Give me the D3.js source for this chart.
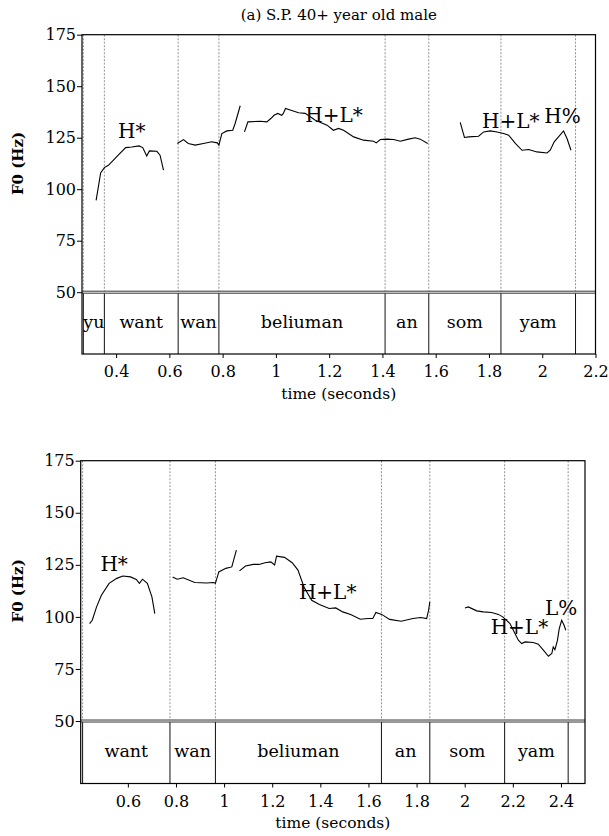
<!DOCTYPE html>
<html>
<head>
<meta charset="utf-8">
<script src="https://cdn.jsdelivr.net/npm/d3@7"></script>
<style>
  body { margin: 0; background: #fff; }
  svg { display: block; }
  svg text { font-family: "DejaVu Serif", "Liberation Serif", serif; fill: #000; }
</style>
</head>
<body>
<svg id="chart"></svg>
<script>
// ---- data: time in seconds, F0 in Hz ----
const yTicks = [50, 75, 100, 125, 150, 175];

// (a) S.P. 40+ year old male
const wordsA = ["yu", "want", "wan", "beliuman", "an", "som", "yam"];
const boundsA = [0.277, 0.356, 0.633, 0.786, 1.41, 1.574, 1.845, 2.125];
const xTicksA = [0.4, 0.6, 0.8, 1, 1.2, 1.4, 1.6, 1.8, 2, 2.2];
const contoursA = [
  [[0.325,94.6],[0.342,107.9],[0.356,110.5],[0.371,111.6],[0.390,114.1],[0.408,116.5],[0.436,120.2],
   [0.459,120.5],[0.486,121.0],[0.500,120.2],[0.515,116.1],[0.525,118.6],[0.553,118.4],[0.565,116.5],[0.578,109.2]],
  [[0.630,122.2],[0.653,124.1],[0.671,122.2],[0.697,121.4],[0.728,122.2],[0.759,123.0],[0.780,122.5],
   [0.786,121.4],[0.797,127.0],[0.816,128.3],[0.838,128.6],[0.847,131.9],[0.866,140.5]],
  [[0.882,127.8],[0.895,132.7],[0.941,133.0],[0.966,132.7],[0.981,134.3],[0.993,135.9],[1.007,136.8],
   [1.022,135.9],[1.028,136.8],[1.036,139.2],[1.054,138.4],[1.085,137.1],[1.110,136.8],[1.148,133.5],
   [1.192,131.1],[1.216,128.6],[1.235,129.5],[1.254,128.6],[1.292,125.4],[1.329,123.8],[1.367,123.3],
   [1.377,122.5],[1.392,124.1],[1.417,124.3],[1.442,124.1],[1.467,123.3],[1.498,124.3],[1.523,125.0],
   [1.542,124.3],[1.570,122.2]],
  [[1.692,132.4],[1.708,125.1],[1.724,125.4],[1.761,125.7],[1.780,127.8],[1.805,128.3],[1.830,127.8],
   [1.855,127.0],[1.874,126.2],[1.899,122.2],[1.924,118.9],[1.949,119.3],[1.980,118.1],[2.018,117.6],
   [2.030,118.9],[2.045,123.0],[2.061,125.4],[2.080,128.3],[2.093,124.6],[2.108,118.9]]
];
const tonesA = [
  { text: "H*", t: 0.407, f0: 125 },
  { text: "H+L*", t: 1.110, f0: 132.7 },
  { text: "H+L*", t: 1.774, f0: 129.5 },
  { text: "H%", t: 2.008, f0: 131.9 }
];

// second speaker
const wordsB = ["want", "wan", "beliuman", "an", "som", "yam"];
const boundsB = [0.412, 0.775, 0.964, 1.654, 1.855, 2.166, 2.43];
const xTicksB = [0.6, 0.8, 1, 1.2, 1.4, 1.6, 1.8, 2, 2.2, 2.4];
const contoursB = [
  [[0.441,96.8],[0.452,98.4],[0.470,104.8],[0.490,110.4],[0.522,116.1],[0.554,118.5],[0.579,119.6],
   [0.611,119.2],[0.635,118.0],[0.648,116.1],[0.661,118.1],[0.681,116.1],[0.700,109.6],[0.712,101.6]],
  [[0.786,119.2],[0.805,118.1],[0.830,118.8],[0.878,116.5],[0.927,116.3],[0.956,116.5],[0.964,116.1],
   [0.978,121.6],[1.007,123.3],[1.032,124.0],[1.051,132.1]],
  [[1.064,122.1],[1.089,124.4],[1.121,125.2],[1.145,125.2],[1.170,126.0],[1.194,126.4],[1.210,124.9],
   [1.218,129.2],[1.251,128.6],[1.283,126.0],[1.307,122.5],[1.332,114.4],[1.364,108.0],[1.396,106.0],
   [1.437,104.0],[1.464,104.3],[1.493,102.4],[1.526,101.2],[1.566,98.9],[1.598,99.2],[1.618,99.2],
   [1.631,102.1],[1.655,101.2],[1.688,98.8],[1.736,97.9],[1.785,99.2],[1.817,99.7],[1.842,99.2],
   [1.850,103.2],[1.855,107.2]],
  [[2.001,104.3],[2.015,104.8],[2.050,102.9],[2.077,102.4],[2.112,102.1],[2.140,101.2],[2.158,100.0],
   [2.188,96.8],[2.209,92.0],[2.223,88.8],[2.237,87.2],[2.251,88.0],[2.285,87.7],[2.306,86.9],
   [2.327,84.0],[2.348,81.1],[2.362,82.4],[2.368,85.6],[2.375,84.3],[2.385,88.5],[2.393,94.4],
   [2.403,98.4],[2.413,96.0],[2.420,93.6]]
];
const tonesB = [
  { text: "H*", t: 0.486, f0: 122.1 },
  { text: "H+L*", t: 1.311, f0: 108.8 },
  { text: "H+L*", t: 2.108, f0: 91.7 },
  { text: "L%", t: 2.334, f0: 100.8 }
];

const width = 609;
const height = 836;

const svg = d3.select("#chart").attr("width", width).attr("height", height);

function drawPanel(cfg) {
  const x = d3.scaleLinear().domain(cfg.xDomain).range([cfg.left, cfg.right]);
  const y = d3.scaleLinear().domain([20, 175]).range([cfg.bottom, cfg.top]);
  const g = svg.append("g");
  const y50 = y(50);

  // word boundaries: dashed above the tier, solid inside it
  g.selectAll(".bd").data(cfg.bounds).enter().append("line")
    .attr("x1", d => x(d)).attr("x2", d => x(d))
    .attr("y1", cfg.top).attr("y2", y50 - 1)
    .attr("stroke", "#777").attr("stroke-width", 0.8).attr("stroke-dasharray", "2,1.5");
  g.selectAll(".bs").data(cfg.bounds).enter().append("line")
    .attr("x1", d => x(d)).attr("x2", d => x(d))
    .attr("y1", y50 + 1).attr("y2", cfg.bottom)
    .attr("stroke", "#111").attr("stroke-width", 1);

  // tier separator (double line at 50 Hz)
  [-1, 1].forEach(o => {
    g.append("line").attr("x1", cfg.left).attr("x2", cfg.right)
      .attr("y1", y50 + o).attr("y2", y50 + o)
      .attr("stroke", "#333").attr("stroke-width", 1);
  });

  // word labels
  g.selectAll(".word").data(cfg.words).enter().append("text")
    .attr("x", (d, i) => (x(cfg.bounds[i]) + x(cfg.bounds[i + 1])) / 2)
    .attr("y", (y50 + cfg.bottom) / 2 + 5)
    .attr("text-anchor", "middle")
    .attr("font-size", 17.5)
    .text(d => d);

  // F0 contours
  const line = d3.line().x(d => x(d[0])).y(d => y(d[1]));
  g.selectAll(".f0").data(cfg.contours).enter().append("path")
    .attr("d", line).attr("fill", "none").attr("stroke", "#000").attr("stroke-width", 1.1);

  // tone labels
  g.selectAll(".tone").data(cfg.tones).enter().append("text")
    .attr("x", d => x(d.t)).attr("y", d => y(d.f0))
    .attr("font-size", 20)
    .text(d => d.text);

  // axes
  const yAxis = g.append("g").attr("transform", `translate(${cfg.left},0)`)
    .call(d3.axisLeft(y).tickValues(yTicks).tickSize(5).tickPadding(1));
  const xAxis = g.append("g").attr("transform", `translate(0,${cfg.bottom})`)
    .call(d3.axisBottom(x).tickValues(cfg.xTicks).tickSize(4).tickPadding(8).tickFormat(d => d));
  [yAxis, xAxis].forEach(a => {
    a.select(".domain").remove();
    a.selectAll("text").attr("font-size", 16);
  });

  // frame
  g.append("rect")
    .attr("x", cfg.left).attr("y", cfg.top)
    .attr("width", cfg.right - cfg.left).attr("height", cfg.bottom - cfg.top)
    .attr("fill", "none").attr("stroke", "#000").attr("stroke-width", 1.2);

  g.append("text")
    .attr("x", (cfg.left + cfg.right) / 2).attr("y", cfg.bottom + 44.5)
    .attr("text-anchor", "middle").attr("font-size", 15.5)
    .text("time (seconds)");

  g.append("text")
    .attr("transform", `translate(22.5,${(cfg.top + y50) / 2}) rotate(-90)`)
    .attr("text-anchor", "middle").attr("font-size", 15).attr("font-weight", "bold")
    .text("F0 (Hz)");

  if (cfg.title) {
    g.append("text")
      .attr("x", (cfg.left + cfg.right) / 2).attr("y", 20)
      .attr("text-anchor", "middle").attr("font-size", 15)
      .text(cfg.title);
  }
}

drawPanel({
  title: "(a) S.P. 40+ year old male",
  xDomain: [0.272, 2.2], left: 82, right: 595.5, top: 34.7, bottom: 354,
  words: wordsA, bounds: boundsA, xTicks: xTicksA, contours: contoursA, tones: tonesA
});

drawPanel({
  xDomain: [0.404, 2.5], left: 80.7, right: 585, top: 460.7, bottom: 783.5,
  words: wordsB, bounds: boundsB, xTicks: xTicksB, contours: contoursB, tones: tonesB
});
</script>
</body>
</html>
